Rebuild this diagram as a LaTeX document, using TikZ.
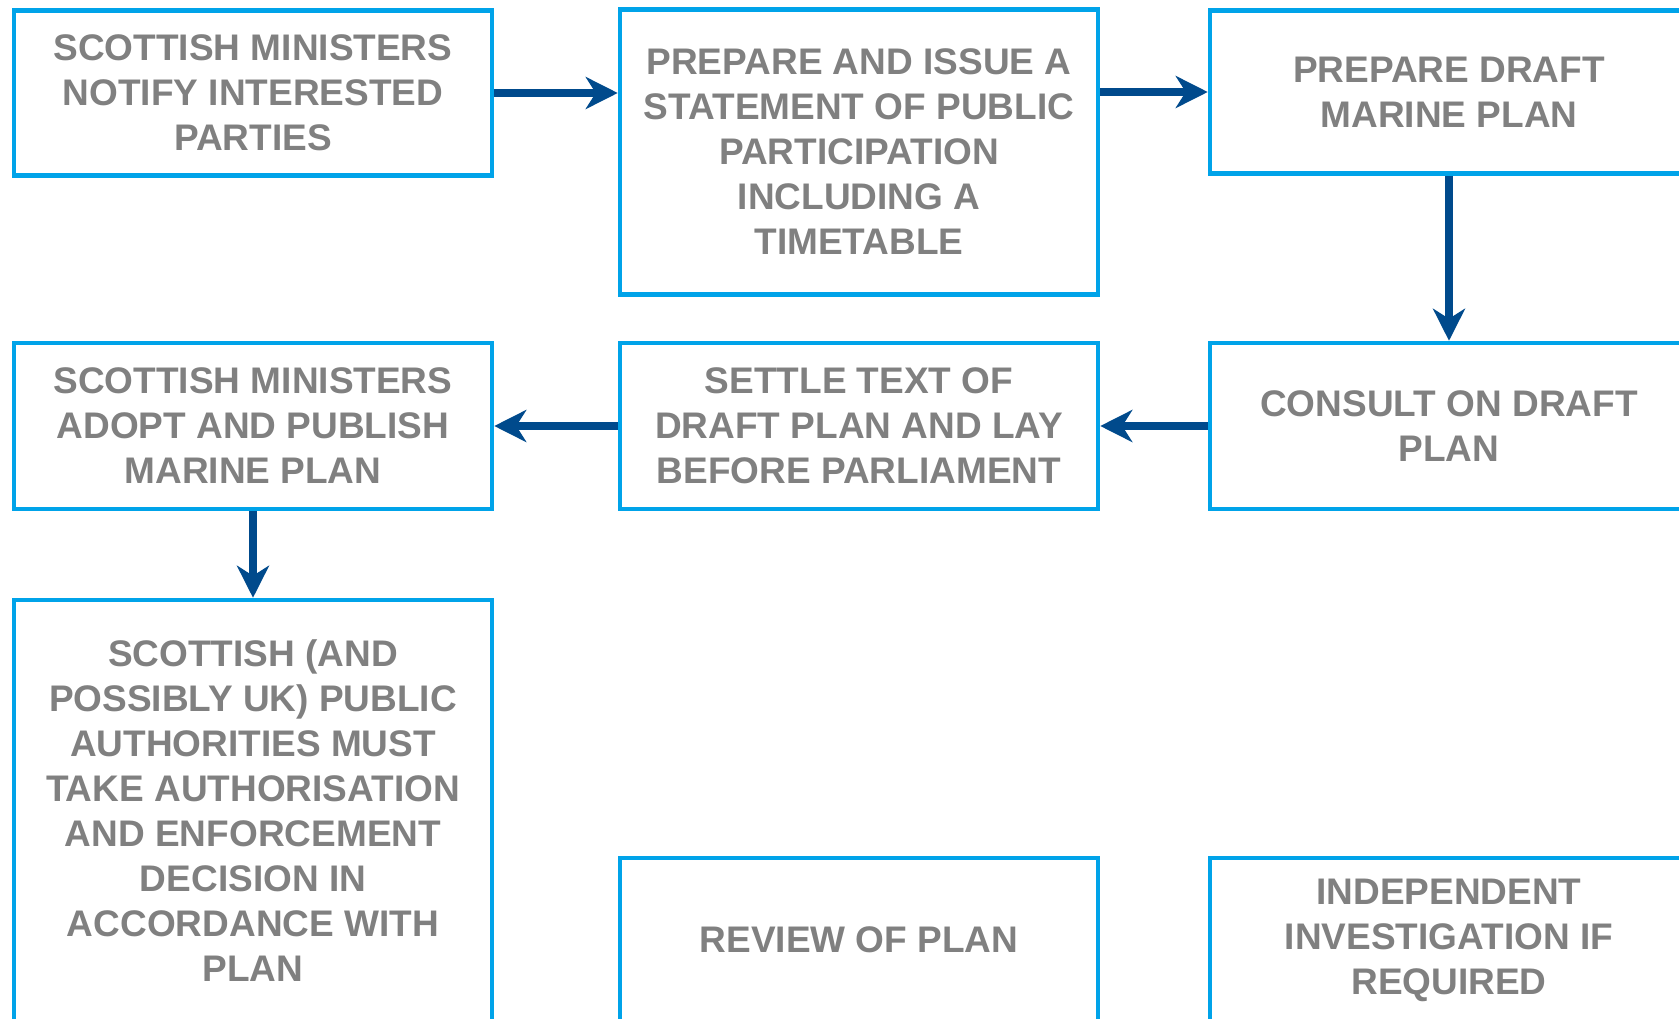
\documentclass[tikz,border=0pt]{standalone}
\usepackage{fontspec}
\setmainfont{Liberation Sans}
\usepackage{tikz}
\usetikzlibrary{arrows.meta}
\definecolor{boxblue}{RGB}{0,163,233}
\definecolor{arrowblue}{RGB}{0,74,140}
\definecolor{textgray}{RGB}{128,128,128}
\tikzset{
  stage/.style={draw=boxblue, line width=4.5pt, text=textgray,
    font=\bfseries\fontsize{37}{45}\selectfont, align=center,
    inner sep=0pt, minimum width=478pt},
  flow/.style={draw=arrowblue, line width=8.5pt,
    -{Stealth[length=32pt,width=32pt,inset=10pt]}}
}
\begin{document}
\begin{tikzpicture}
  \useasboundingbox (0pt,0pt) rectangle (1679pt,-1018pt);
  \clip (0pt,0pt) rectangle (1679pt,-1018pt);

  % top row
  \node[stage, minimum height=165pt] (notify) at (253pt,-93pt)
    {SCOTTISH MINISTERS\\NOTIFY INTERESTED\\PARTIES};
  \node[stage, minimum height=285pt] (statement) at (859pt,-152pt)
    {PREPARE AND ISSUE A\\STATEMENT OF PUBLIC\\PARTICIPATION\\INCLUDING A\\TIMETABLE};
  \node[stage, minimum height=163pt] (draft) at (1449pt,-92pt)
    {PREPARE DRAFT\\MARINE PLAN};

  % middle row
  \node[stage, minimum height=166pt] (adopt) at (253pt,-426pt)
    {SCOTTISH MINISTERS\\ADOPT AND PUBLISH\\MARINE PLAN};
  \node[stage, minimum height=166pt] (settle) at (859pt,-426pt)
    {SETTLE TEXT OF\\DRAFT PLAN AND LAY\\BEFORE PARLIAMENT};
  \node[stage, minimum height=166pt] (consult) at (1449pt,-426pt)
    {CONSULT ON DRAFT\\PLAN};

  % bottom row
  \node[stage, minimum height=422pt] (decide) at (253pt,-811pt)
    {SCOTTISH (AND\\POSSIBLY UK) PUBLIC\\AUTHORITIES MUST\\TAKE AUTHORISATION\\AND ENFORCEMENT\\DECISION IN\\ACCORDANCE WITH\\PLAN};
  \node[stage, minimum height=164pt] (review) at (859pt,-940pt)
    {REVIEW OF PLAN};
  \node[stage, minimum height=164pt] (investigate) at (1449pt,-940pt)
    {INDEPENDENT\\INVESTIGATION IF\\REQUIRED};

  % arrows
  \draw[flow] (notify.east) -- (notify.east -| statement.west);
  \draw[flow] (statement.east |- draft.west) -- (draft.west);
  \draw[flow] (draft) -- (consult);
  \draw[flow] (consult) -- (settle);
  \draw[flow] (settle) -- (adopt);
  \draw[flow] (adopt) -- (decide);
\end{tikzpicture}
\end{document}
